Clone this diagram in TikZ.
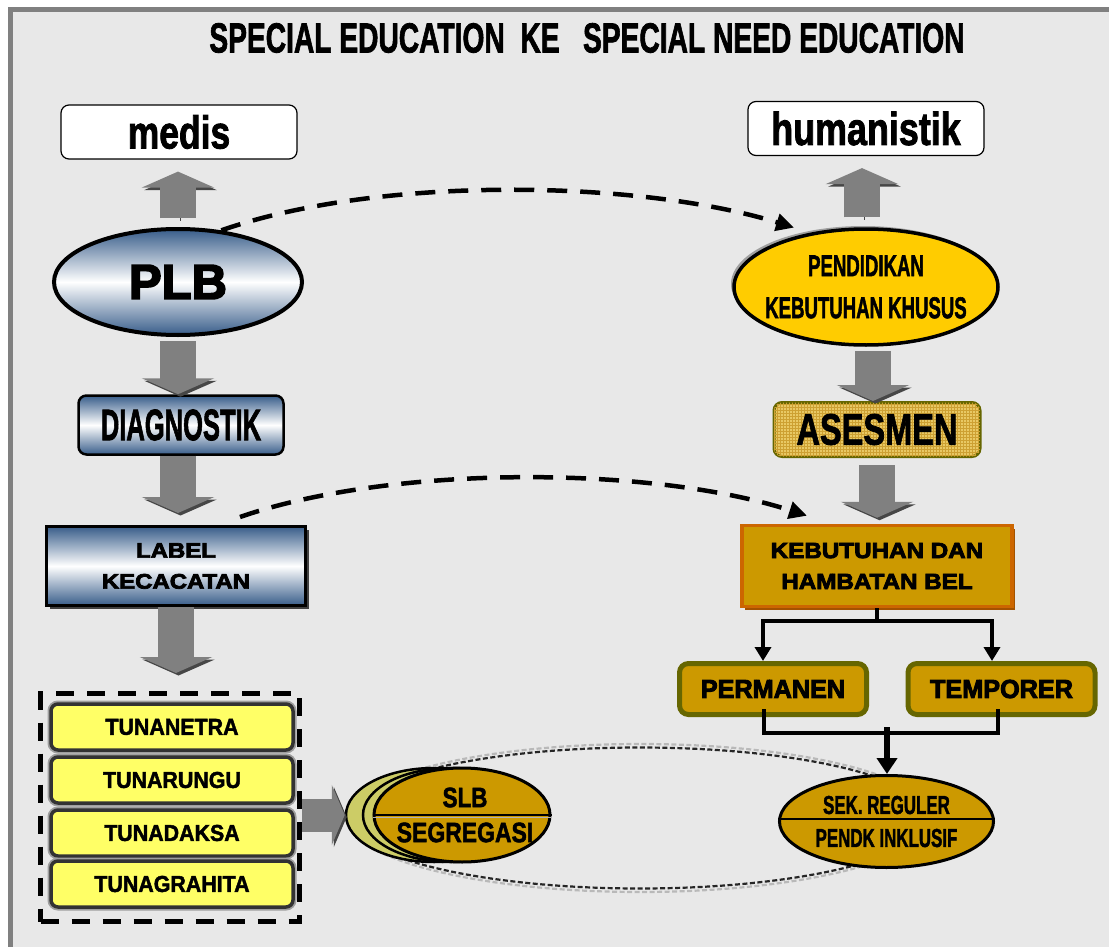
\documentclass[tikz,border=0pt]{standalone}
\usepackage{fontspec}
\usepackage{graphicx}
\setmainfont{Liberation Sans}[BoldFeatures={FakeBold=2}]
\newfontfamily\heavy{Liberation Sans}[BoldFeatures={FakeBold=3.5}]
\usetikzlibrary{arrows.meta,shapes.geometric,calc,patterns}

\definecolor{bgfill}{RGB}{232,232,232}
\definecolor{framegray}{RGB}{128,128,128}
\definecolor{steel}{RGB}{56,93,138}
\definecolor{gold}{RGB}{204,153,0}
\definecolor{amber}{RGB}{255,204,0}
\definecolor{olive}{RGB}{102,102,0}
\definecolor{rust}{RGB}{204,102,0}
\definecolor{lemon}{RGB}{255,255,102}
\definecolor{pale}{RGB}{204,204,102}
\definecolor{sand}{RGB}{232,200,100}
\definecolor{sandgrid}{RGB}{205,160,50}
\definecolor{arrowgray}{RGB}{128,128,128}
\definecolor{tunaborder}{RGB}{51,51,51}

% horizontally squeezed / stretched label text
\newcommand{\hs}[2]{\scalebox{#1}[1]{#2}}

\begin{document}
\begin{tikzpicture}[x=1pt,y=-1pt,
  bluegrad/.style={top color=steel,bottom color=steel,middle color=white},
  headbox/.style={draw=black,line width=1.2pt,fill=white,rounded corners=8pt,
    minimum width=236pt,minimum height=54pt,inner sep=0pt},
  blockarrow/.style={draw=arrowgray,line width=36pt,
    -{Triangle[length=16pt,width=72pt]},
    preaction={draw=arrowgray!55!black,transform canvas={xshift=2.5pt,yshift=-2.5pt}}},
  sidearrow/.style={draw=arrowgray,line width=33pt,
    -{Triangle[length=13pt,width=60pt]},
    preaction={draw=arrowgray!55!black,transform canvas={xshift=2pt,yshift=-2pt}}},
  tuna/.style={draw=tunaborder,line width=3.5pt,fill=lemon,rounded corners=7pt,
    minimum width=242pt,minimum height=46pt,inner sep=0pt,
    font=\fontsize{23}{23}\selectfont\bfseries,
    preaction={draw=gray!75,line width=7pt}},
  goldbox/.style={draw=olive,line width=5pt,fill=gold,rounded corners=9pt,
    minimum width=187pt,minimum height=51pt,inner sep=0pt,
    font=\fontsize{26}{26}\selectfont\heavy\bfseries},
  oval/.style={ellipse,draw=black,inner sep=0pt},
  ovaltext/.style={inner sep=0pt,align=center},
  dashlink/.style={line width=4.5pt,dash pattern=on 20pt off 13pt,
    -{Triangle[length=18pt,width=17pt]}},
  treeline/.style={line width=4pt,draw=black},
  treetip/.style={-{Triangle[length=14pt,width=16pt]}},
  ringdash/.style={line width=2.2pt,dash pattern=on 5pt off 2.5pt}
]
\useasboundingbox (0,0) rectangle (1109,947);

% page frame and tinted panel
\fill[white] (0,0) rectangle (1109,947);
\fill[bgfill] (13,12) rectangle (1109,947);
\fill[framegray] (8,7) rectangle (1109,12);
\fill[framegray] (8,7) rectangle (13,947);

% title
\node[font=\fontsize{42}{42}\selectfont\bfseries,inner sep=0pt] (title) at (587,38)
  {\hs{0.671}{SPECIAL EDUCATION\ \ KE\ \ \ SPECIAL NEED EDUCATION}};

% loop joining the two school types
\draw[ringdash,gray!55] (640,818) ellipse [x radius=293, y radius=74];
\draw[ringdash,black!85] (640,818) ellipse [x radius=290, y radius=70.5];

% ---------- left column ----------
\node[headbox] (medis) at (179,132)
  {\fontsize{46}{46}\selectfont\bfseries\hs{0.77}{medis}};

\node[oval,line width=4pt,bluegrad,minimum width=248pt,minimum height=106pt]
  (plb) at (178,282) {};
\node[ovaltext] (plbtext) at (plb.center)
  {\fontsize{49}{49}\selectfont\heavy\bfseries\hs{1.0}{PLB}};

\node[draw=black,line width=2.5pt,bluegrad,rounded corners=8pt,minimum width=205pt,
  minimum height=59pt,inner sep=0pt] (diag) at (181,425)
  {\fontsize{44}{44}\selectfont\bfseries\hs{0.58}{DIAGNOSTIK}};

\node[draw=black,line width=3pt,bluegrad,minimum width=259pt,minimum height=79pt,
  inner sep=0pt,align=center,font=\fontsize{21}{31}\selectfont\heavy\bfseries,
  preaction={fill=black!75,transform canvas={xshift=3pt,yshift=-3pt}}] (lab) at (176,566)
  {\hs{1.14}{LABEL}\\\hs{1.14}{KECACATAN}};

\node[draw=black,line width=5pt,dash pattern=on 18pt off 13pt,minimum width=259pt,
  minimum height=228pt,inner sep=0pt] (tgroup) at (170,807.5) {};
\node[tuna] (netra) at (172,727) {\hs{0.93}{TUNANETRA}};
\node[tuna] (rungu) at (172,780) {\hs{0.93}{TUNARUNGU}};
\node[tuna] (daksa) at (172,833) {\hs{0.93}{TUNADAKSA}};
\node[tuna] (grahita) at (172,884) {\hs{0.93}{TUNAGRAHITA}};

% stacked ellipses of the special school
\node[oval,line width=2.5pt,fill=pale,minimum width=176pt,minimum height=94pt]
  (slbc) at (434,815) {};
\node[oval,line width=2.5pt,fill=pale,minimum width=176pt,minimum height=94pt]
  (slbb) at (451,815) {};
\node[oval,line width=3pt,fill=gold,minimum width=176pt,minimum height=94pt]
  (slb) at (462,815) {};
\draw[gray!60,line width=1.5pt] ([yshift=-2.5pt]slb.west) -- ([yshift=-2.5pt]slb.east);
\draw[black,line width=2.5pt] (slb.west) -- (slb.east);
\node[ovaltext,font=\fontsize{28}{35}\selectfont\bfseries] (slbtext) at ([xshift=3pt]slb.center)
  {\hs{0.8}{SLB}\\\hs{0.82}{SEGREGASI}};

% ---------- right column ----------
\node[headbox] (human) at (866,128.5)
  {\fontsize{46}{46}\selectfont\bfseries\hs{0.78}{humanistik}};

\node[oval,line width=3.5pt,fill=amber,minimum width=264pt,minimum height=116pt,
  preaction={fill=gray!75,transform canvas={xshift=-3pt,yshift=3pt}}] (pkk) at (866,287) {};
\node[ovaltext,font=\fontsize{30}{42}\selectfont\bfseries] (pkktext) at (pkk.center)
  {\hs{0.62}{PENDIDIKAN}\\\hs{0.62}{KEBUTUHAN KHUSUS}};

\node[draw=olive,line width=3pt,fill=sand,rounded corners=8pt,minimum width=206pt,
  minimum height=54pt,inner sep=0pt,
  postaction={pattern=grid,pattern color=sandgrid}] (ases) at (877,429.5) {};
\node[inner sep=0pt] (asestext) at (ases.center)
  {\fontsize{44}{44}\selectfont\bfseries\hs{0.74}{ASESMEN}};

\node[draw=rust,line width=3.5pt,fill=gold,minimum width=270pt,minimum height=81pt,
  inner sep=0pt,align=center,font=\fontsize{22}{31}\selectfont\heavy\bfseries,
  preaction={fill=rust!80!black,transform canvas={xshift=3pt,yshift=-3pt}}] (keb) at (877,566)
  {\hs{1.1}{KEBUTUHAN DAN}\\\hs{1.1}{HAMBATAN BEL}};

\node[goldbox] (perm) at (773,689) {\hs{0.97}{PERMANEN}};
\node[goldbox] (temp) at (1001.5,689) {\hs{0.97}{TEMPORER}};

\node[oval,line width=3pt,fill=gold,minimum width=214pt,minimum height=92pt]
  (sek) at (886.5,821.5) {};
\draw[black,line width=2pt] ([yshift=2.5pt]sek.west) -- ([yshift=2.5pt]sek.east);
\node[ovaltext,font=\fontsize{26}{33}\selectfont\bfseries] (sektext) at (sek.center)
  {\hs{0.65}{SEK. REGULER}\\\hs{0.65}{PENDK INKLUSIF}};

% ---------- grey block arrows ----------
\draw[blockarrow,shorten <=9pt,shorten >=12pt] (plb.north) -- (plb.north |- medis.south);
\draw[blockarrow,shorten <=4pt] (plb.south) -- (plb.south |- diag.north);
\draw[blockarrow,shorten >=12pt] (plb.south |- diag.south) -- (plb.south |- lab.north);
\draw[blockarrow,shorten >=18pt] (lab.south) -- (lab.south |- tgroup.north);
\draw[sidearrow] (tgroup.east |- slbc.west) -- (slbc.west);

\draw[blockarrow,shorten <=10pt,shorten >=12pt] ([xshift=-4pt]pkk.north) -- ([xshift=-4pt]pkk.north |- human.south);
\draw[blockarrow,shorten <=4pt] ([xshift=7pt]pkk.south) -- ([xshift=7pt]pkk.south |- ases.north);
\draw[blockarrow,shorten <=7pt,shorten >=6pt] (ases.south) -- (ases.south |- keb.north);

% ---------- dashed links between the two views ----------
\draw[dashlink] (plb.50) .. controls (380,175) and (640,180) .. ([yshift=9pt]pkk.145);
\draw[dashlink] ([xshift=64pt,yshift=8pt]lab.north) .. controls (390,465) and (650,465)
  .. ([xshift=-70pt,yshift=8pt]keb.north);

% ---------- branching tree ----------
\draw[treeline] (keb.south) -- ++(0,13) coordinate (split);
\draw[treeline,treetip] (split) -| ([xshift=-10pt]perm.north);
\draw[treeline,treetip] (split) -| ([xshift=-9.5pt]temp.north);

\coordinate (merge) at (887,733);
\draw[treeline] ([xshift=-9pt,yshift=8pt]perm.south) |- (merge);
\draw[treeline] ([xshift=-3.5pt,yshift=8pt]temp.south) |- (merge);
\draw[line width=6pt,-{Triangle[length=16pt,width=20pt]}] ([yshift=6pt]merge) -- (merge |- sek.north);
\end{tikzpicture}
\end{document}
